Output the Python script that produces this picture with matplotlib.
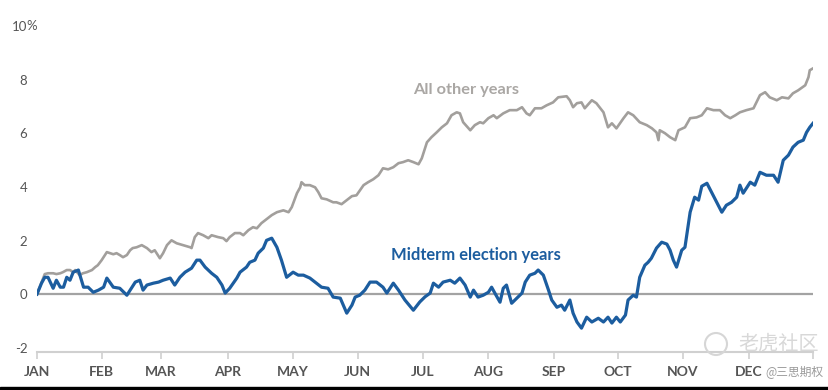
import matplotlib
matplotlib.use('Agg')
import matplotlib.pyplot as plt
from matplotlib.patches import Rectangle, Ellipse

# x positions in months since Jan 1 (0..12), values in % return
other_x = [0.00, 0.12, 0.17, 0.25, 0.30, 0.36, 0.40, 0.46, 0.51, 0.56, 0.59, 0.66, 0.71, 0.77, 0.85,
           0.90, 0.94, 1.00, 1.08, 1.13, 1.18, 1.23, 1.28, 1.33, 1.39, 1.44, 1.48, 1.54, 1.62, 1.70,
           1.77, 1.82, 1.90, 1.95, 2.01, 2.08, 2.16, 2.26, 2.37, 2.39, 2.44, 2.49, 2.57, 2.65, 2.70,
           2.80, 2.88, 2.93, 2.98, 3.06, 3.14, 3.19, 3.27, 3.34, 3.40, 3.47, 3.55, 3.63, 3.71, 3.81,
           3.89, 3.94, 4.02, 4.07, 4.09, 4.14, 4.22, 4.30, 4.35, 4.40, 4.48, 4.58, 4.63, 4.71, 4.79,
           4.87, 4.94, 5.05, 5.12, 5.20, 5.28, 5.35, 5.43, 5.51, 5.59, 5.66, 5.74, 5.82, 5.90, 5.95,
           6.03, 6.10, 6.18, 6.26, 6.34, 6.41, 6.49, 6.54, 6.59, 6.70, 6.77, 6.85, 6.90, 6.98, 7.06,
           7.11, 7.21, 7.31, 7.42, 7.50, 7.57, 7.62, 7.70, 7.80, 7.88, 7.98, 8.06, 8.19, 8.24, 8.29,
           8.35, 8.42, 8.47, 8.58, 8.65, 8.76, 8.83, 8.89, 8.96, 9.07, 9.14, 9.22, 9.32, 9.43, 9.51,
           9.58, 9.61, 9.63, 9.71, 9.79, 9.87, 9.92, 10.02, 10.10, 10.20, 10.28, 10.36, 10.46, 10.56,
           10.64, 10.72, 10.80, 10.87, 10.97, 11.08, 11.18, 11.26, 11.33, 11.44, 11.52, 11.62, 11.69,
           11.77, 11.88, 11.93, 11.95, 12.00]
other_y = [0.00, 0.75, 0.78, 0.78, 0.75, 0.78, 0.82, 0.90, 0.90, 0.82, 0.90, 0.71, 0.78, 0.82, 0.90,
           1.01, 1.08, 1.27, 1.57, 1.53, 1.49, 1.53, 1.46, 1.38, 1.46, 1.64, 1.72, 1.75, 1.83, 1.72,
           1.57, 1.64, 1.34, 1.53, 1.83, 2.01, 1.90, 1.83, 1.75, 1.72, 2.13, 2.28, 2.20, 2.09, 2.20,
           2.13, 2.09, 1.98, 2.13, 2.28, 2.28, 2.20, 2.39, 2.50, 2.46, 2.65, 2.80, 2.95, 3.06, 3.13,
           3.06, 3.25, 3.77, 3.99, 4.18, 4.07, 4.07, 3.99, 3.81, 3.58, 3.54, 3.43, 3.43, 3.36, 3.51,
           3.66, 3.69, 4.07, 4.18, 4.29, 4.44, 4.70, 4.66, 4.74, 4.89, 4.93, 5.00, 4.93, 4.85, 5.07,
           5.67, 5.86, 6.04, 6.23, 6.38, 6.68, 6.79, 6.75, 6.42, 6.12, 6.31, 6.42, 6.38, 6.57, 6.68,
           6.57, 6.75, 6.87, 6.87, 6.98, 6.75, 6.68, 6.94, 6.94, 7.05, 7.16, 7.35, 7.39, 7.24, 6.98,
           7.13, 7.16, 6.94, 7.24, 7.13, 6.79, 6.23, 6.38, 6.19, 6.57, 6.79, 6.68, 6.42, 6.31, 6.19,
           6.04, 5.75, 6.12, 6.01, 5.86, 5.75, 6.12, 6.23, 6.57, 6.60, 6.68, 6.94, 6.87, 6.87,
           6.68, 6.57, 6.68, 6.79, 6.87, 6.94, 7.43, 7.54, 7.35, 7.24, 7.35, 7.31, 7.50,
           7.61, 7.80, 8.10, 8.36, 8.43]

midterm_x = [0.00, 0.07, 0.12, 0.17, 0.25, 0.30, 0.36, 0.41, 0.46, 0.51, 0.56, 0.64, 0.72, 0.79, 0.87,
             0.95, 1.03, 1.08, 1.18, 1.28, 1.39, 1.46, 1.52, 1.59, 1.64, 1.70, 1.80, 1.88, 1.95, 2.06,
             2.13, 2.21, 2.29, 2.39, 2.47, 2.52, 2.60, 2.70, 2.78, 2.86, 2.91, 2.98, 3.09, 3.14, 3.24,
             3.29, 3.37, 3.42, 3.50, 3.55, 3.63, 3.71, 3.78, 3.86, 3.96, 4.04, 4.12, 4.22, 4.30, 4.40,
             4.50, 4.58, 4.69, 4.79, 4.87, 4.92, 4.99, 5.07, 5.15, 5.25, 5.35, 5.41, 5.51, 5.59, 5.69,
             5.82, 5.92, 6.00, 6.08, 6.13, 6.21, 6.28, 6.39, 6.46, 6.54, 6.62, 6.70, 6.75, 6.82, 6.90,
             6.98, 7.03, 7.08, 7.16, 7.21, 7.26, 7.34, 7.42, 7.50, 7.55, 7.62, 7.70, 7.75, 7.83, 7.91,
             7.96, 8.04, 8.11, 8.16, 8.24, 8.29, 8.35, 8.42, 8.50, 8.58, 8.68, 8.76, 8.83, 8.89, 8.96,
             9.02, 9.10, 9.14, 9.22, 9.27, 9.32, 9.40, 9.45, 9.50, 9.58, 9.66, 9.74, 9.79, 9.84, 9.89,
             9.97, 10.02, 10.10, 10.17, 10.23, 10.28, 10.36, 10.43, 10.51, 10.59, 10.66, 10.74, 10.82,
             10.87, 10.92, 11.03, 11.10, 11.18, 11.28, 11.39, 11.46, 11.54, 11.62, 11.69, 11.77, 11.85,
             11.90, 11.95, 12.00]
midterm_y = [0.00, 0.41, 0.63, 0.63, 0.22, 0.52, 0.26, 0.26, 0.63, 0.52, 0.82, 0.90, 0.26, 0.26, 0.07,
             0.15, 0.26, 0.60, 0.26, 0.22, -0.04, 0.22, 0.45, 0.52, 0.15, 0.34, 0.41, 0.45, 0.52, 0.60,
             0.34, 0.63, 0.82, 0.97, 1.27, 1.27, 1.01, 0.78, 0.63, 0.34, 0.04, 0.22, 0.60, 0.82, 1.01,
             1.19, 1.27, 1.53, 1.72, 2.01, 2.09, 1.75, 1.27, 0.63, 0.82, 0.71, 0.71, 0.60, 0.45, 0.26,
             0.22, -0.11, -0.15, -0.71, -0.41, -0.11, -0.04, 0.15, 0.45, 0.45, 0.26, 0.04, 0.41, 0.15, -0.22,
             -0.60, -0.29, -0.10, 0.04, 0.41, 0.26, 0.45, 0.52, 0.41, 0.60, 0.34, -0.11, 0.15, -0.11, -0.04,
             0.07, 0.26, 0.04, -0.30, 0.22, 0.34, -0.34, -0.15, 0.04, 0.45, 0.71, 0.78, 0.90, 0.71, 0.15,
             -0.22, -0.49, -0.41, -0.60, -0.22, -0.71, -1.04, -1.27, -0.86, -1.04, -0.90, -1.04, -0.86, -1.08, -0.86,
             -1.04, -0.78, -0.22, -0.04, -0.11, 0.63, 1.08, 1.19, 1.34, 1.72, 1.94, 1.87, 1.64, 1.27, 1.01,
             1.64, 1.75, 3.06, 3.62, 3.51, 4.03, 4.14, 3.81, 3.43, 3.06, 3.32, 3.43, 3.62,
             4.07, 3.77, 4.18, 4.07, 4.55, 4.44, 4.44, 4.18, 5.00, 5.19, 5.49, 5.67, 5.75,
             6.04, 6.23, 6.38]

month_pos = [0, 1.00, 1.92, 2.95, 3.96, 4.96, 5.97, 6.97, 7.99, 8.98, 9.99, 11.01, 12]
month_labels = ['JAN', 'FEB', 'MAR', 'APR', 'MAY', 'JUN', 'JUL', 'AUG', 'SEP', 'OCT', 'NOV', 'DEC', '']
y_ticks = [-2, 0, 2, 4, 6, 8, 10]

GRAY = '#a29f9c'
BLUE = '#1c5d9f'
TICK = '#555555'

plt.rcParams['font.family'] = ['Lato', 'DejaVu Sans']

fig = plt.figure(figsize=(8.29, 3.90), dpi=100)
ax = fig.add_axes([37 / 829, 38 / 390, 776 / 829, 327 / 390])

ax.axhline(0, color='#a3a3a3', lw=1.6, zorder=1)
ax.plot(other_x, other_y, color=GRAY, lw=1.9, zorder=2)
ax.plot(midterm_x, midterm_y, color=BLUE, lw=2.3, zorder=3)

ax.text(5.81, 7.61, 'All other years', color='#aaa7a4', fontsize=11.8,
        fontweight='bold', ha='left', va='center')
ax.text(5.47, 1.46, 'Midterm election years', color=BLUE, fontsize=11.9,
        fontweight='bold', ha='left', va='center')

ax.set_xlim(0, 12)
ax.set_ylim(-2.16, 10.05)
ax.set_xticks(month_pos)
ax.set_xticklabels(month_labels)
ax.set_yticks(y_ticks)
ax.set_yticklabels([str(v) for v in y_ticks])
ax.text(-0.0138, 10, '%', transform=ax.get_yaxis_transform(), ha='left', va='center',
        color=TICK, fontsize=9.5)

for side in ['top', 'right', 'left']:
    ax.spines[side].set_visible(False)
ax.spines['bottom'].set_color('#d0d0d0')
ax.spines['bottom'].set_linewidth(1.5)
ax.tick_params(axis='x', length=5, width=1.2, color='#d0d0d0', labelcolor=TICK,
               labelsize=10, pad=5)
ax.tick_params(axis='y', length=0, labelcolor=TICK, labelsize=9.5, pad=7)
for lbl in ax.get_xticklabels():
    lbl.set_fontweight('bold')

# watermark
fig.patches.append(Ellipse((716 / 829, 46 / 390), 22 / 829, 22 / 390, transform=fig.transFigure,
                           fill=False, edgecolor='#d6d6d6', lw=1.5))
fig.text(738 / 829, 46 / 390, '老虎社区', family=['Noto Sans CJK SC', 'DejaVu Sans'], fontsize=14.5,
         color='#d8d8d8', ha='left', va='center')
fig.text(765 / 829, 18 / 390, '@三思期权', family=['Noto Sans CJK SC', 'DejaVu Sans'], fontsize=8.5,
         color='#9a9a9a', ha='left', va='center')

fig.patches.append(Rectangle((0, 0), 1, 3 / 390, transform=fig.transFigure, color='black'))

fig.savefig('out.png', dpi=100)
